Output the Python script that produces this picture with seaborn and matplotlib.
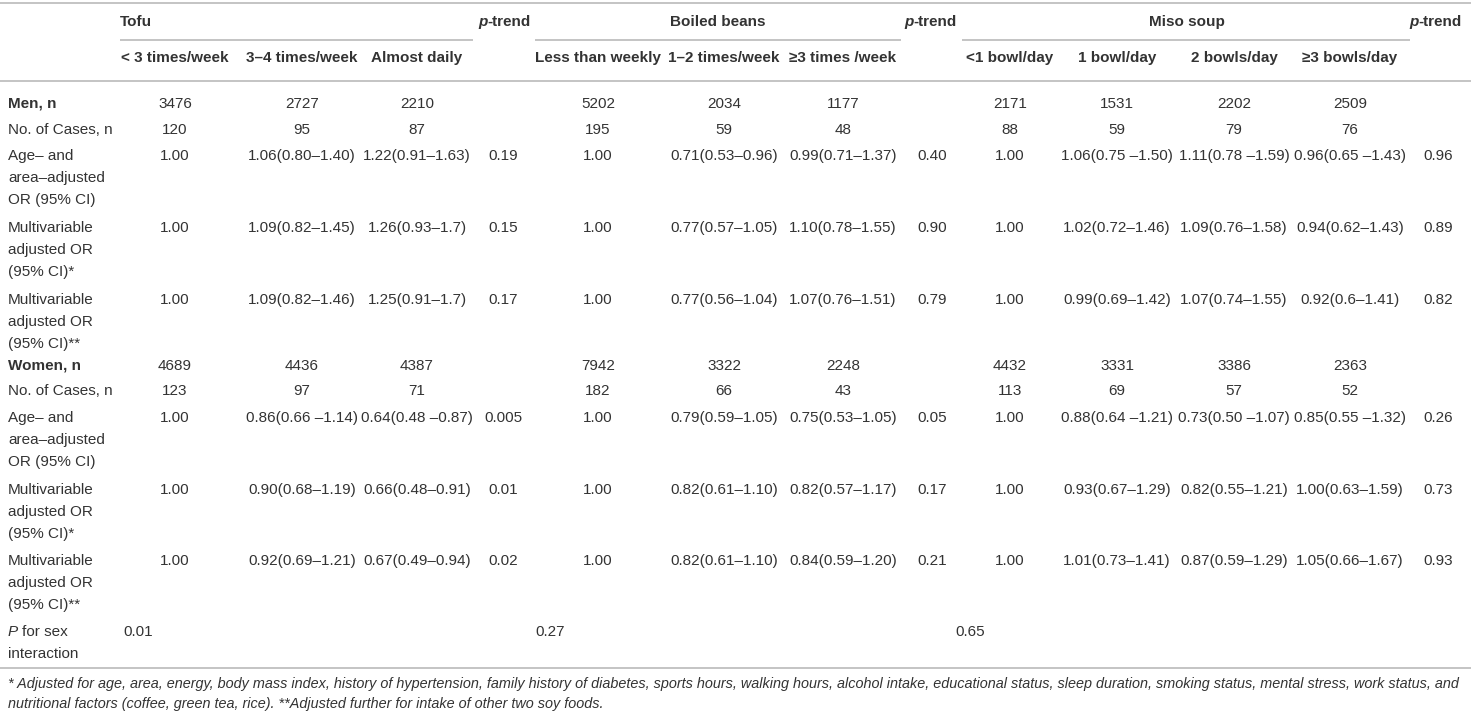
import matplotlib
matplotlib.use("Agg")
import matplotlib.pyplot as plt
import seaborn as sns
from matplotlib import font_manager

sns.set_theme(style="white")
plt.rcParams['font.family'] = ['Liberation Sans', 'DejaVu Sans']

# table content
groups = ["Tofu", "Boiled beans", "Miso soup"]
tofu_levels = ["< 3 times/week", "3–4 times/week", "Almost daily"]
beans_levels = ["Less than weekly", "1–2 times/week", "≥3 times /week"]
miso_levels = ["<1 bowl/day", "1 bowl/day", "2 bowls/day", "≥3 bowls/day"]

row_labels = ["Men, n", "No. of Cases, n",
              "Age– and\narea–adjusted\nOR (95% CI)",
              "Multivariable\nadjusted OR\n(95% CI)*",
              "Multivariable\nadjusted OR\n(95% CI)**",
              "Women, n", "No. of Cases, n",
              "Age– and\narea–adjusted\nOR (95% CI)",
              "Multivariable\nadjusted OR\n(95% CI)*",
              "Multivariable\nadjusted OR\n(95% CI)**"]
bold_rows = ["Men, n", "Women, n"]

tofu_values = [
    ["3476", "2727", "2210"],
    ["120", "95", "87"],
    ["1.00", "1.06(0.80–1.40)", "1.22(0.91–1.63)"],
    ["1.00", "1.09(0.82–1.45)", "1.26(0.93–1.7)"],
    ["1.00", "1.09(0.82–1.46)", "1.25(0.91–1.7)"],
    ["4689", "4436", "4387"],
    ["123", "97", "71"],
    ["1.00", "0.86(0.66 –1.14)", "0.64(0.48 –0.87)"],
    ["1.00", "0.90(0.68–1.19)", "0.66(0.48–0.91)"],
    ["1.00", "0.92(0.69–1.21)", "0.67(0.49–0.94)"],
]
tofu_ptrend = ["", "", "0.19", "0.15", "0.17", "", "", "0.005", "0.01", "0.02"]

beans_values = [
    ["5202", "2034", "1177"],
    ["195", "59", "48"],
    ["1.00", "0.71(0.53–0.96)", "0.99(0.71–1.37)"],
    ["1.00", "0.77(0.57–1.05)", "1.10(0.78–1.55)"],
    ["1.00", "0.77(0.56–1.04)", "1.07(0.76–1.51)"],
    ["7942", "3322", "2248"],
    ["182", "66", "43"],
    ["1.00", "0.79(0.59–1.05)", "0.75(0.53–1.05)"],
    ["1.00", "0.82(0.61–1.10)", "0.82(0.57–1.17)"],
    ["1.00", "0.82(0.61–1.10)", "0.84(0.59–1.20)"],
]
beans_ptrend = ["", "", "0.40", "0.90", "0.79", "", "", "0.05", "0.17", "0.21"]

miso_values = [
    ["2171", "1531", "2202", "2509"],
    ["88", "59", "79", "76"],
    ["1.00", "1.06(0.75 –1.50)", "1.11(0.78 –1.59)", "0.96(0.65 –1.43)"],
    ["1.00", "1.02(0.72–1.46)", "1.09(0.76–1.58)", "0.94(0.62–1.43)"],
    ["1.00", "0.99(0.69–1.42)", "1.07(0.74–1.55)", "0.92(0.6–1.41)"],
    ["4432", "3331", "3386", "2363"],
    ["113", "69", "57", "52"],
    ["1.00", "0.88(0.64 –1.21)", "0.73(0.50 –1.07)", "0.85(0.55 –1.32)"],
    ["1.00", "0.93(0.67–1.29)", "0.82(0.55–1.21)", "1.00(0.63–1.59)"],
    ["1.00", "1.01(0.73–1.41)", "0.87(0.59–1.29)", "1.05(0.66–1.67)"],
]
miso_ptrend = ["", "", "0.96", "0.89", "0.82", "", "", "0.26", "0.73", "0.93"]

sex_interaction = ["0.01", "0.27", "0.65"]

footnote = ["* Adjusted for age, area, energy, body mass index, history of hypertension, family history of diabetes, "
            "sports hours, walking hours, alcohol intake, educational status, sleep duration, smoking status, "
            "mental stress, work status, and",
            "nutritional factors (coffee, green tea, rice). **Adjusted further for intake of other two soy foods."]

# layout (pixels)
W, H = 1471, 712
txt = "#333333"
rule = "#bfbfbf"
fs = 11
line_h = 22
row_y = [104, 130, 156, 228, 300, 366, 391, 418, 490, 561]
group_cols = [[175, 302, 417], [598, 724, 843], [1010, 1117, 1234, 1350]]
ptrend_x = [503, 932, 1438]
ptrend_hdr_x = [478, 904, 1409]
group_span = [(120, 473), (535, 901), (962, 1410)]
group_start = [123, 535, 955]

fig = plt.figure(figsize=(W / 100, H / 100), dpi=100)
ax = fig.add_axes([0, 0, 1, 1])
ax.set_xlim(0, W)
ax.set_ylim(H, 0)
ax.axis("off")

for y in (3, 81, 668):
    ax.hlines(y, 0, W, color=rule, lw=1.3)
for x0, x1 in group_span:
    ax.hlines(40, x0, x1, color=rule, lw=1.3)

# header
ax.text(120, 22, groups[0], ha="left", va="center", fontsize=fs, fontweight="bold", color=txt)
ax.text(718, 22, groups[1], ha="center", va="center", fontsize=fs, fontweight="bold", color=txt)
ax.text(1187, 22, groups[2], ha="center", va="center", fontsize=fs, fontweight="bold", color=txt)
for hx in ptrend_hdr_x:
    t = ax.text(hx, 22, "p", ha="left", va="center", fontsize=fs, fontweight="bold",
                fontstyle="italic", color=txt)
    ax.annotate("-trend", xy=(1, 0), xycoords=t, ha="left", va="bottom", fontsize=fs,
                fontweight="bold", color=txt)
for levels, cols in zip([tofu_levels, beans_levels, miso_levels], group_cols):
    for lab, cx in zip(levels, cols):
        ax.text(cx, 58, lab, ha="center", va="center", fontsize=fs, fontweight="bold", color=txt)

# body
for i, (lab, y) in enumerate(zip(row_labels, row_y)):
    bold = "bold" if lab in bold_rows else "normal"
    for k, part in enumerate(lab.split("\n")):
        ax.text(8, y + k * line_h, part, ha="left", va="center", fontsize=fs,
                fontweight=bold, color=txt)
    for vals, ptr, cols, px in zip([tofu_values, beans_values, miso_values],
                                   [tofu_ptrend, beans_ptrend, miso_ptrend],
                                   group_cols, ptrend_x):
        for v, cx in zip(vals[i], cols):
            ax.text(cx, y, v, ha="center", va="center", fontsize=fs, color=txt)
        if ptr[i]:
            ax.text(px, y, ptr[i], ha="center", va="center", fontsize=fs, color=txt)

# P for sex interaction
t = ax.text(8, 632, "P", ha="left", va="center", fontsize=fs, fontstyle="italic", color=txt)
ax.annotate("for sex", xy=(1, 0), xycoords=t, xytext=(3, 0), textcoords="offset points",
            ha="left", va="bottom", fontsize=fs, color=txt)
ax.text(8, 632 + line_h, "interaction", ha="left", va="center", fontsize=fs, color=txt)
for v, gx in zip(sex_interaction, group_start):
    ax.text(gx, 632, v, ha="left", va="center", fontsize=fs, color=txt)

# footnote, condensed italic fitted to the table width
names = {f.name for f in font_manager.fontManager.ttflist}
foot_family = ["Liberation Sans Narrow"] if "Liberation Sans Narrow" in names else ["Liberation Sans"]
fig.canvas.draw()
r = fig.canvas.get_renderer()
f1 = ax.text(8, 684, footnote[0], ha="left", va="center", fontsize=10, fontstyle="italic",
             family=foot_family, color=txt)
w = f1.get_window_extent(renderer=r).width
ffs = 10 * 1454 / w
f1.set_fontsize(ffs)
ax.text(8, 704, footnote[1], ha="left", va="center", fontsize=ffs, fontstyle="italic",
        family=foot_family, color=txt)

fig.savefig("out.png", dpi=100)
